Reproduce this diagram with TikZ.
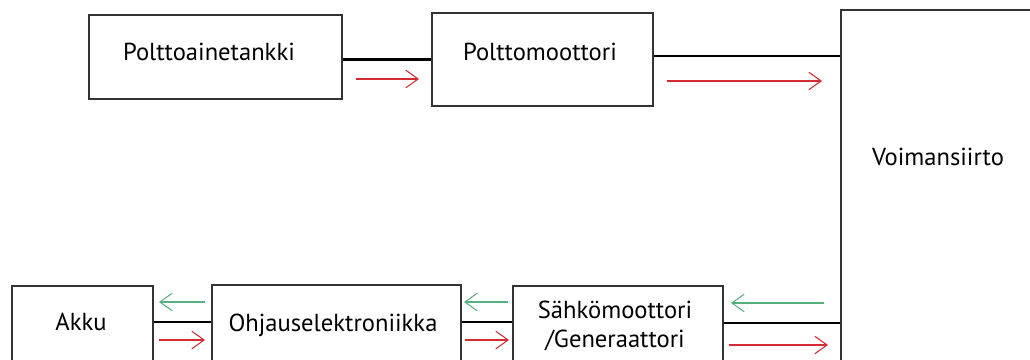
\documentclass[tikz,border=0pt]{standalone}
\usepackage{fontspec}
\setmainfont{PT Sans}
\usetikzlibrary{arrows.meta}
\usetikzlibrary{fit}
\definecolor{flowred}{RGB}{212,44,48}
\definecolor{flowgreen}{RGB}{88,176,128}
\tikzset{
  box/.style={draw=black!80,line width=0.6pt,inner sep=0pt},
  link/.style={black,line width=1.3pt},
  lbl/.style={font=\fontsize{14}{17}\selectfont,anchor=base,inner sep=0pt},
  fwd/.style={flowred,line width=0.6pt,-{Straight Barb[length=7pt,width=10pt]}},
  back/.style={flowgreen,line width=0.6pt,-{Straight Barb[length=7pt,width=10pt]}}
}

\begin{document}
\begin{tikzpicture}[x=0.02cm,y=-0.02cm]
\clip (0,0) rectangle (1030,359);
\fill[white] (0,0) rectangle (1030,359);
% boxes
\node[box,fit={(89,15) (342,99)}] (tank) {};
\node[box,fit={(432,13) (653,106)}] (motor) {};
\node[box,fit={(841,10) (1060,380)}] (drive) {};
\node[box,fit={(12,286) (153,366)}] (akku) {};
\node[box,fit={(212,285) (461,366)}] (ohjaus) {};
\node[box,fit={(513,286) (723,366)}] (sahko) {};
% texts
\node[lbl] (tanktxt) at (209,60) {Polttoainetankki};
\node[lbl] (motortxt) at (540,60) {Polttomoottori};
\node[lbl] (drivetxt) at (938,165) {Voimansiirto};
\node[lbl] (akkutxt) at (81,330) {Akku};
\node[lbl] (ohjaustxt) at (333,331) {Ohjauselektroniikka};
\node[lbl] (sahkotxt) at (615,318) {Sähkömoottori};
\node[lbl] (gentxt) at (615,347) {/Generaattori};

% connections
\draw[link] (motor.west -| tank.east) -- (motor.west);
\draw[link] ([yshift=0.07cm]motor.east) -- ([yshift=0.07cm]motor.east -| drive.west);
\draw[link] ([yshift=0.08cm]akku.east) -- ([yshift=0.08cm]akku.east -| ohjaus.west);
\draw[link] ([yshift=0.07cm]ohjaus.east) -- ([yshift=0.07cm]ohjaus.east -| sahko.west);
\draw[link] ([yshift=0.06cm]sahko.east) -- ([yshift=0.06cm]sahko.east -| drive.west);

% energy flow
\draw[fwd] (356,79) -- (419,79);
\draw[fwd] (667,81) -- (822,81);
\draw[back] (205,302) -- (159,302);
\draw[fwd] (159,340) -- (205,340);
\draw[back] (508,302) -- (464,302);
\draw[fwd] (465,340) -- (509,340);
\draw[back] (824,303) -- (731,303);
\draw[fwd] (729,345) -- (828,345);
\end{tikzpicture}
\end{document}
